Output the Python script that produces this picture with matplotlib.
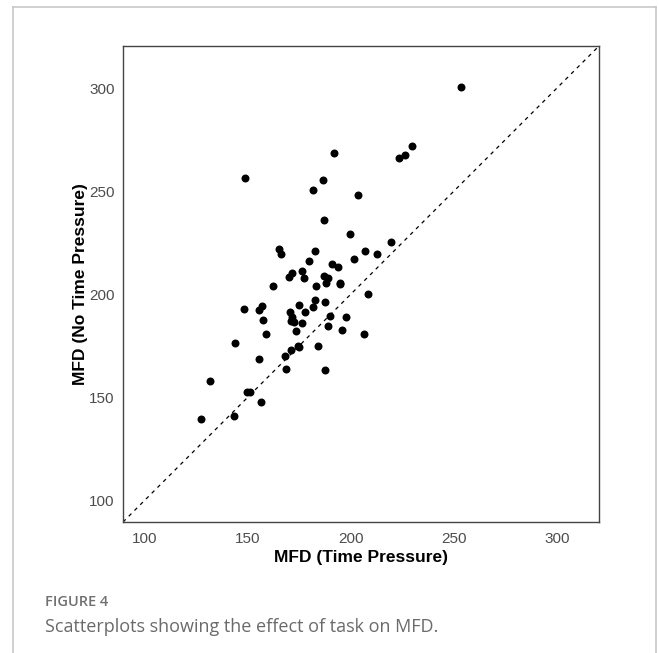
import matplotlib
matplotlib.use("Agg")
import matplotlib.pyplot as plt
from matplotlib.lines import Line2D

# MFD per participant
mfd_time_pressure = [
    253.4, 229.9, 226.2, 223.6, 192.1, 148.6, 186.6, 181.9, 203.6, 187.1,
    199.8, 219.5, 165.3, 166.2, 182.8, 206.9, 212.6, 179.7, 201.5, 191.0,
    193.9, 171.6, 170.1, 176.3, 177.4, 187.1, 189.2, 187.9, 194.6, 194.7,
    162.2, 183.1, 208.2, 148.1, 155.3, 156.8, 175.0, 182.8, 181.8, 187.3,
    170.6, 177.7, 171.4, 170.8, 172.4, 176.3, 189.9, 197.7, 157.5, 189.1,
    196.0, 206.6, 173.4, 159.1, 143.7, 174.2, 175.1, 183.9, 170.9, 168.0,
    155.4, 168.7, 187.3, 131.6, 149.6, 150.9, 156.7, 127.4, 143.6,
]
mfd_no_time_pressure = [
    300.5, 271.8, 267.4, 266.3, 268.7, 256.6, 255.4, 250.4, 248.3, 236.2,
    229.1, 225.4, 222.2, 219.5, 221.2, 220.9, 219.8, 216.2, 217.0, 214.6,
    213.3, 210.1, 208.5, 211.3, 207.7, 209.0, 207.7, 205.7, 205.6, 204.8,
    203.8, 203.8, 200.1, 193.0, 192.6, 194.3, 194.9, 197.0, 193.8, 196.4,
    191.2, 191.5, 188.9, 187.2, 186.4, 185.9, 189.4, 188.8, 187.6, 184.6,
    182.5, 180.5, 182.2, 180.9, 176.3, 175.1, 174.4, 175.1, 172.8, 170.1,
    168.6, 163.9, 163.1, 158.1, 152.8, 152.8, 147.6, 139.4, 141.0,
]
ticks = [100, 150, 200, 250, 300]
lims = (100, 310)

plt.rcParams['font.family'] = ['Liberation Sans', 'DejaVu Sans']

fig = plt.figure(figsize=(6.59, 6.53), dpi=100)
ax = fig.add_axes([123 / 659, 1 - 522 / 653, 476 / 659, 476 / 653])

# ggplot-style 5% expansion around the fixed limits
pad = (lims[1] - lims[0]) * 0.05
lo, hi = lims[0] - pad, lims[1] + pad
ax.set_xlim(lo, hi)
ax.set_ylim(lo, hi)

ax.plot([lo, hi], [lo, hi], color='black', lw=0.9, dashes=(3, 3.5), zorder=1)
ax.scatter(mfd_time_pressure, mfd_no_time_pressure, s=33, color='black',
           linewidths=0, zorder=2)

ax.set_xticks(ticks)
ax.set_yticks(ticks)
ax.tick_params(length=0, labelsize=11, labelcolor='#4d4d4d', pad=7)
ax.tick_params(axis='y', pad=6)
for sp in ax.spines.values():
    sp.set_color('#444444')
    sp.set_linewidth(1.0)

ax.set_xlabel('MFD (Time Pressure)', fontsize=12.5, fontweight='bold', labelpad=3)
ax.set_ylabel('MFD (No Time Pressure)', fontsize=12.5, fontweight='bold', labelpad=1)

# outer panel frame of the figure page
fw, fh = 659, 653
frame = dict(color='#c8c8c8', lw=1.2, transform=fig.transFigure)
fig.add_artist(Line2D([13 / fw, 13 / fw], [0, 1 - 7 / fh], **frame))
fig.add_artist(Line2D([13 / fw, 656 / fw], [1 - 7 / fh, 1 - 7 / fh], **frame))
fig.add_artist(Line2D([656 / fw, 656 / fw], [0, 1 - 7 / fh], **frame))

# caption
fig.text(45 / fw, 1 - 606 / fh, 'FIGURE 4', family='Open Sans', fontsize=10.5,
         fontweight='semibold', color='#707070', va='baseline')
fig.text(45 / fw, 1 - 632 / fh, 'Scatterplots showing the effect of task on MFD.',
         family='Open Sans', fontsize=13, color='#6a6a6a', va='baseline')

fig.savefig('out.png', dpi=100)
